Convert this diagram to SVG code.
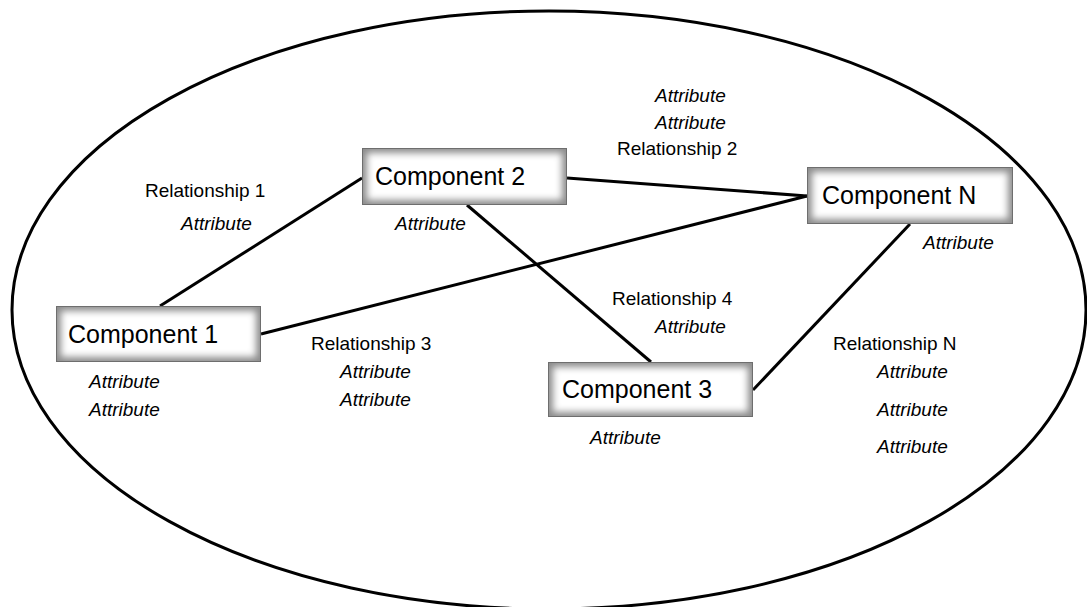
<svg xmlns="http://www.w3.org/2000/svg" width="1087" height="607" viewBox="0 0 1087 607">
  <style>
    .lbl { font-family: "Liberation Sans", Arial, sans-serif; font-size: 19px; fill: #000; }
    .att { font-style: italic; }
    .cmp { font-family: "Liberation Sans", Arial, sans-serif; font-size: 25px; fill: #000; }
    .edge { fill: #8c8c8c; }
    .core { fill: #fff; filter: url(#soft); }
    .rim { fill: none; stroke: #6e6e6e; stroke-width: 1; }
    .conn line { stroke: #000; stroke-width: 3; }
  </style>
  <defs>
    <filter id="soft" x="-20%" y="-40%" width="140%" height="180%">
      <feGaussianBlur stdDeviation="3.5"/>
    </filter>
  </defs>
  <rect width="1087" height="607" fill="#fff"/>
  <ellipse id="boundary" cx="549" cy="310" rx="537" ry="299" fill="none" stroke="#000" stroke-width="3"/>

  <g id="connectors" class="conn">
    <line x1="160" y1="306" x2="362" y2="178"/>
    <line x1="261" y1="334" x2="807" y2="196"/>
    <line x1="567" y1="178" x2="807" y2="196"/>
    <line x1="467" y1="205" x2="651" y2="362"/>
    <line x1="910" y1="224" x2="753" y2="390"/>
  </g>

  <g id="component1">
    <rect class="edge" x="56" y="306" width="205" height="56"/>
    <rect class="core" x="61" y="311" width="195" height="46"/>
    <rect class="rim" x="56.5" y="306.5" width="204" height="55"/>
    <text class="cmp" x="68" y="343">Component 1</text>
  </g>
  <g id="component2">
    <rect class="edge" x="362" y="148" width="205" height="57"/>
    <rect class="core" x="367" y="153" width="195" height="47"/>
    <rect class="rim" x="362.5" y="148.5" width="204" height="56"/>
    <text class="cmp" x="375" y="185">Component 2</text>
  </g>
  <g id="componentN">
    <rect class="edge" x="807" y="167" width="206" height="57"/>
    <rect class="core" x="812" y="172" width="196" height="47"/>
    <rect class="rim" x="807.5" y="167.5" width="205" height="56"/>
    <text class="cmp" x="822" y="204">Component N</text>
  </g>
  <g id="component3">
    <rect class="edge" x="548" y="362" width="205" height="55"/>
    <rect class="core" x="553" y="367" width="195" height="45"/>
    <rect class="rim" x="548.5" y="362.5" width="204" height="54"/>
    <text class="cmp" x="562" y="398">Component 3</text>
  </g>

  <g id="labels">
    <text class="lbl att" x="655" y="102">Attribute</text>
    <text class="lbl att" x="655" y="129">Attribute</text>
    <text class="lbl" x="617" y="155">Relationship 2</text>
    <text class="lbl" x="145" y="197">Relationship 1</text>
    <text class="lbl att" x="181" y="230">Attribute</text>
    <text class="lbl att" x="395" y="230">Attribute</text>
    <text class="lbl att" x="923" y="249">Attribute</text>
    <text class="lbl" x="612" y="305">Relationship 4</text>
    <text class="lbl att" x="655" y="333">Attribute</text>
    <text class="lbl" x="311" y="350">Relationship 3</text>
    <text class="lbl att" x="340" y="378">Attribute</text>
    <text class="lbl att" x="340" y="406">Attribute</text>
    <text class="lbl" x="833" y="350">Relationship N</text>
    <text class="lbl att" x="877" y="378">Attribute</text>
    <text class="lbl att" x="877" y="416">Attribute</text>
    <text class="lbl att" x="877" y="453">Attribute</text>
    <text class="lbl att" x="89" y="388">Attribute</text>
    <text class="lbl att" x="89" y="416">Attribute</text>
    <text class="lbl att" x="590" y="444">Attribute</text>
  </g>
</svg>
